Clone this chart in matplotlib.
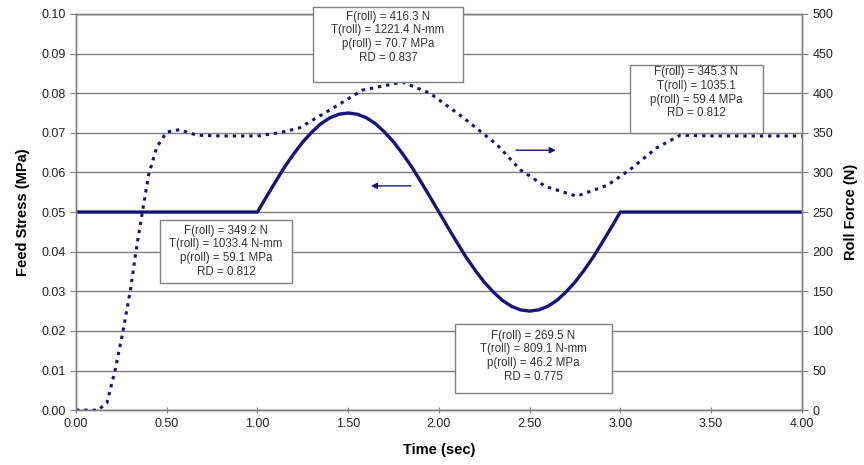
import matplotlib.pyplot as plt
from matplotlib.patches import Rectangle
import numpy as np

plt.rcParams['font.family'] = ['Liberation Sans', 'DejaVu Sans']

# feed stress (left axis), MPa
t_feed = [0.0, 1.0, 1.05, 1.1, 1.15, 1.2, 1.25, 1.3, 1.35, 1.4, 1.45, 1.5,
          1.55, 1.6, 1.65, 1.7, 1.75, 1.8, 1.85, 1.9, 1.95, 2.0,
          2.05, 2.1, 2.15, 2.2, 2.25, 2.3, 2.35, 2.4, 2.45, 2.5,
          2.55, 2.6, 2.65, 2.7, 2.75, 2.8, 2.85, 2.9, 2.95, 3.0, 4.0]
feed_stress = [0.0500, 0.0500, 0.0539, 0.0577, 0.0614, 0.0647, 0.0677, 0.0702,
               0.0723, 0.0738, 0.0747, 0.0750, 0.0747, 0.0738, 0.0723, 0.0702,
               0.0677, 0.0647, 0.0614, 0.0577, 0.0539, 0.0500,
               0.0461, 0.0423, 0.0386, 0.0353, 0.0323, 0.0298, 0.0277, 0.0262,
               0.0253, 0.0250, 0.0253, 0.0262, 0.0277, 0.0298, 0.0323, 0.0353,
               0.0386, 0.0423, 0.0461, 0.0500, 0.0500]

# roll force (right axis), N
t_force = [0.00, 0.12, 0.17, 0.215, 0.26, 0.30, 0.33, 0.365, 0.40, 0.445, 0.50,
           0.57, 0.665, 0.80, 1.00, 1.12, 1.23, 1.40, 1.58, 1.80, 1.95, 2.13,
           2.32, 2.45, 2.59, 2.76, 2.93, 3.05, 3.20, 3.33, 3.50, 4.00]
roll_force = [0, 0, 9, 50, 101, 152, 200, 249, 297, 332, 351,
              354, 347, 346, 346, 350, 356, 379, 404, 414, 400, 370,
              335, 303, 282, 270, 284, 303, 331, 347, 346, 346]

# result boxes: text, text centre (t, stress), box extent (t0, t1, s0, s1)
box_text = [
    "F(roll) = 416.3 N\nT(roll) = 1221.4 N-mm\np(roll) = 70.7 MPa\nRD = 0.837",
    "F(roll) = 345.3 N\nT(roll) = 1035.1\np(roll) = 59.4 MPa\nRD = 0.812",
    "F(roll) = 349.2 N\nT(roll) = 1033.4 N-mm\np(roll) = 59.1 MPa\nRD = 0.812",
    "F(roll) = 269.5 N\nT(roll) = 809.1 N-mm\np(roll) = 46.2 MPa\nRD = 0.775",
]
box_centre = [(1.72, 0.0941), (3.42, 0.0801), (0.826, 0.0401), (2.52, 0.0136)]
box_extent = [(1.306, 2.132, 0.0828, 0.1018),
              (3.052, 3.785, 0.0700, 0.0871),
              (0.463, 1.190, 0.0321, 0.0480),
              (2.088, 2.953, 0.0043, 0.0217)]

navy = '#14147a'
grey = '#7f7f7f'

fig = plt.figure(figsize=(8.64, 4.65), dpi=100)
ax = fig.add_axes([0.088, 0.118, 0.840, 0.852])
ax2 = ax.twinx()

ax.set_xlim(0, 4)
ax.set_ylim(0, 0.10)
ax2.set_ylim(0, 500)
ax.set_xticks(np.arange(0, 4.01, 0.5))
ax.set_yticks(np.arange(0, 0.1001, 0.01))
ax2.set_yticks(np.arange(0, 501, 50))
ax.xaxis.set_major_formatter(plt.FormatStrFormatter('%.2f'))
ax.yaxis.set_major_formatter(plt.FormatStrFormatter('%.2f'))

ax.yaxis.grid(True, color=grey, lw=1.0)
ax.set_axisbelow(True)
for a in (ax, ax2):
    for s in a.spines.values():
        s.set_color(grey)
        s.set_linewidth(1.0)
    a.tick_params(colors=grey, labelcolor='#222222', labelsize=9, length=4)
ax.tick_params(axis='x', direction='inout', length=5)

ax.plot(t_feed, feed_stress, color=navy, lw=2.4, solid_joinstyle='round')
ax2.plot(t_force, roll_force, color=navy, lw=2.2,
         linestyle=(0, (1.1, 1.6)), dash_capstyle='butt')

ax.set_xlabel('Time (sec)', fontsize=10.5, fontweight='bold', labelpad=9)
ax.set_ylabel('Feed Stress (MPa)', fontsize=10.5, fontweight='bold', labelpad=8)
ax2.set_ylabel('Roll Force (N)', fontsize=10.5, fontweight='bold', labelpad=8)

# arrows pointing each series to its axis
ax2.annotate('', xy=(1.61, 283), xytext=(1.86, 283),
             arrowprops=dict(arrowstyle='-|>', color=navy, lw=1.0, mutation_scale=9))
ax2.annotate('', xy=(2.66, 328), xytext=(2.41, 328),
             arrowprops=dict(arrowstyle='-|>', color=navy, lw=1.0, mutation_scale=9))

for txt, (cx, cy), (x0, x1, y0, y1) in zip(box_text, box_centre, box_extent):
    ax2.add_patch(Rectangle((x0, y0), x1 - x0, y1 - y0, transform=ax.transData,
                            fc='white', ec=grey, lw=1.0, zorder=4, clip_on=False))
    ax2.text(cx, cy, txt, transform=ax.transData, ha='center', va='center',
             fontsize=8.3, color='#333333', linespacing=1.2, zorder=5)

fig.savefig('out.png', dpi=100)
